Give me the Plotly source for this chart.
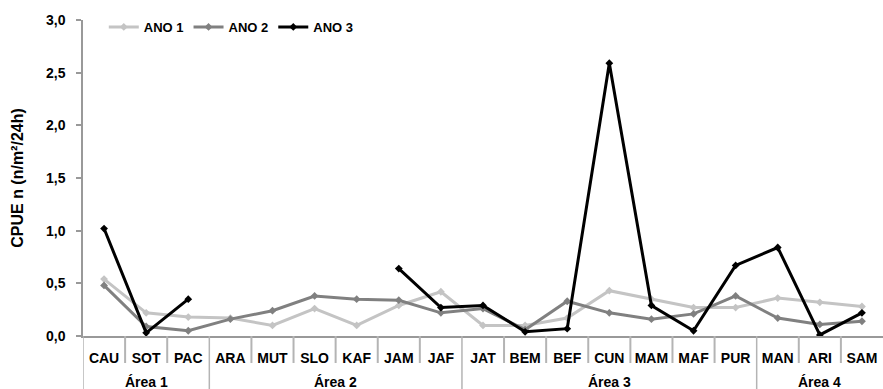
import plotly.graph_objects as go

sites = ["CAU", "SOT", "PAC", "ARA", "MUT", "SLO", "KAF", "JAM", "JAF", "JAT",
         "BEM", "BEF", "CUN", "MAM", "MAF", "PUR", "MAN", "ARI", "SAM"]
area_names = ["Área 1", "Área 2", "Área 3", "Área 4"]
area_sizes = [3, 6, 7, 3]

ano1 = [0.54, 0.22, 0.18, 0.17, 0.10, 0.26, 0.10, 0.29, 0.42, 0.10,
        0.10, 0.17, 0.43, 0.35, 0.27, 0.27, 0.36, 0.32, 0.28]
ano2 = [0.48, 0.09, 0.05, 0.16, 0.24, 0.38, 0.35, 0.34, 0.22, 0.26,
        0.06, 0.33, 0.22, 0.16, 0.21, 0.38, 0.17, 0.11, 0.14]
ano3 = [1.02, 0.03, 0.35, None, None, None, None, 0.64, 0.27, 0.29,
        0.04, 0.07, 2.59, 0.29, 0.05, 0.67, 0.84, 0.01, 0.22]

series = [("ANO 1", ano1, "#c4c4c4", 3), ("ANO 2", ano2, "#808080", 3), ("ANO 3", ano3, "#000000", 3)]

FONT = "Liberation Sans, Arial, sans-serif"
PLOT_H = 389 - 20 - 53

fig = go.Figure()
for name, vals, col, w in series:
    fig.add_trace(go.Scatter(
        x=sites, y=vals, name=name, mode="lines+markers",
        line=dict(color=col, width=w), connectgaps=False,
        marker=dict(symbol="diamond", size=6, color=col),
    ))

shapes = []
annotations = []
area_starts = []
acc = 0
for size in area_sizes:
    area_starts.append(acc)
    acc += size
for i in range(len(sites)):
    is_area = i in area_starts
    shapes.append(dict(
        type="line", xref="x", yref="paper",
        x0=i - 0.5, x1=i - 0.5, y0=0, y1=-(53 if is_area else 27) / PLOT_H,
        line=dict(color="#b4b4b4", width=2 if not is_area else 1.5),
    ))
for name, start, size in zip(area_names, area_starts, area_sizes):
    annotations.append(dict(
        x=start + (size - 1) / 2, xref="x", y=-46 / PLOT_H, yref="paper",
        text=name, showarrow=False, yanchor="middle", xanchor="center",
        font=dict(family=FONT, size=14, color="black", weight="bold"),
    ))

fig.update_layout(
    width=883, height=389,
    margin=dict(l=83, r=0, t=20, b=53),
    paper_bgcolor="white", plot_bgcolor="white",
    separators=",.",
    font=dict(family=FONT, size=14, color="black", weight="bold"),
    showlegend=True,
    legend=dict(orientation="h", x=0.026, y=0.978, xanchor="left", yanchor="middle",
                bgcolor="rgba(0,0,0,0)", font=dict(size=13, weight="bold"),
                itemwidth=30, tracegroupgap=0),
    shapes=shapes, annotations=annotations,
)
fig.update_yaxes(
    range=[0, 3], dtick=0.5, tickformat=".1f", showgrid=False,
    showline=True, linecolor="#999999", linewidth=1.5,
    ticks="outside", ticklen=5, tickcolor="#999999", tickwidth=1.5,
    ticklabelstandoff=8, automargin=False,
    tickfont=dict(size=14, weight="bold"),
    title=dict(text="CPUE n (n/m²/24h)", font=dict(size=16, weight="bold"), standoff=18),
    zeroline=False,
)
fig.update_xaxes(
    type="category", range=[-0.5, len(sites) - 0.5], showgrid=False,
    showline=True, linecolor="#999999", linewidth=1.5,
    ticks="", ticklabelstandoff=8, automargin=False,
    tickfont=dict(size=14, weight="bold"),
)

fig.write_html("out.html")
